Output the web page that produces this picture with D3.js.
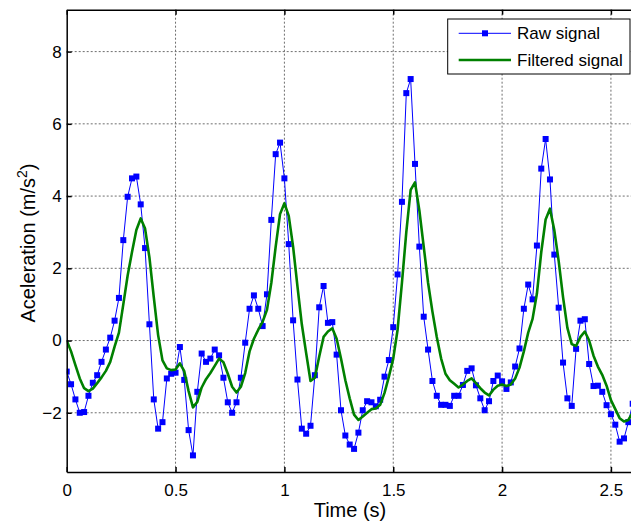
<!DOCTYPE html>
<head>
  <meta charset="utf-8">
  <script src="https://d3js.org/d3.v7.min.js"></script>
  <style>
    body {
      margin: 0;
      background: #fff;
      font-family: "Liberation Sans", Arial, sans-serif;
    }

    .grid line {
      stroke: #6e6e6e;
      stroke-width: 1;
      stroke-dasharray: 2,2;
    }

    .axis path, .axis line {
      stroke: #000;
      stroke-width: 1.5;
    }

    .axis text {
      font-size: 17px;
      fill: #000;
    }
  </style>
</head>

<body>
  <div id="chart"></div>

  <script>
    // samples every 0.02 s
    var sampleStep = 0.02;

    var rawSignal = [
      -0.86, -1.21, -1.63, -2.00, -1.98, -1.53, -1.17, -0.96, -0.59, -0.25,
       0.08,  0.55,  1.18,  2.78,  3.98,  4.49,  4.54,  3.77,  2.56,  0.45,
      -1.63, -2.44, -2.26, -1.05, -0.92, -0.89, -0.18, -1.09, -2.48, -3.18,
      -1.42, -0.36, -0.59, -0.50, -0.25, -0.41, -1.03, -1.71, -2.00, -1.71,
      -1.03, -0.06,  0.88,  1.25,  0.88,  0.40,  1.28,  3.34,  5.16,  5.48,
       4.49,  2.67,  0.56, -1.08, -2.44, -2.58, -2.36, -0.96,  0.92,  1.51,
       0.49,  0.51, -0.39, -1.93, -2.63, -2.88, -3.00, -2.55, -1.93, -1.68,
      -1.71, -1.82, -1.64, -1.00, -0.54,  0.37,  1.83,  3.84,  6.85,  7.24,
       4.89,  2.60,  0.66, -0.25, -1.12, -1.53, -1.78, -1.78, -1.81, -1.53,
      -1.53, -1.23, -0.84, -0.77, -1.24, -1.60, -1.93, -1.68, -1.12, -0.97,
      -1.13, -1.34, -1.16, -0.72, -0.22,  0.88,  1.55,  1.14,  2.63,  4.76,
       5.58,  4.46,  2.38,  0.91, -0.61, -1.60, -1.81, -0.23,  0.55,  0.59,
      -0.65, -1.26, -1.25, -1.42, -1.79, -2.04, -2.33, -2.80, -2.71, -2.26,
      -1.75
    ];

    var filteredSignal = [
       0.00, -0.30, -0.68, -1.05, -1.32, -1.40, -1.33, -1.18, -1.02, -0.84,
      -0.59, -0.17,  0.22,  1.00,  1.80,  2.45,  3.06,  3.38,  3.10,  2.30,
       1.20,  0.15, -0.55, -0.77, -0.82, -0.80, -0.63, -0.85, -1.40, -1.85,
      -1.70, -1.30, -1.07, -0.90, -0.70, -0.50, -0.60, -0.92, -1.28, -1.44,
      -1.28, -0.90, -0.30,  0.05,  0.30,  0.52,  0.85,  1.60,  2.60,  3.50,
       3.80,  3.45,  2.60,  1.50,  0.45, -0.35, -1.12, -1.03, -0.44,  0.10,
       0.25,  0.34,  0.05, -0.50, -1.10, -1.60, -2.05, -2.20, -2.10, -2.00,
      -1.90, -1.88, -1.78, -1.45, -1.00, -0.50,  0.30,  1.60,  3.00,  4.17,
       4.38,  3.60,  2.60,  1.60,  0.80,  0.10, -0.50, -0.92, -1.10, -1.20,
      -1.30, -1.22, -1.12, -1.05, -1.18, -1.32, -1.44, -1.52, -1.36, -1.25,
      -1.22, -1.26, -1.22, -1.05, -0.75, -0.30,  0.22,  0.60,  1.30,  2.45,
       3.35,  3.65,  3.05,  2.20,  1.20,  0.35, -0.10, -0.15,  0.10,  0.25,
       0.00, -0.42, -0.72, -0.95, -1.25, -1.65, -1.90, -2.15, -2.24, -2.20,
      -2.00
    ];

    var xTicks = [0, 0.5, 1, 1.5, 2, 2.5];
    var yTicks = [-2, 0, 2, 4, 6, 8];
    var legendLabels = ["Raw signal", "Filtered signal"];

    var width = 631,
        height = 527;

    // plot box (right edge falls just past the window)
    var box = {left: 66.7, right: 632.7, top: 9.7, bottom: 472};

    var x = d3.scaleLinear()
      .domain([0, 2.6])
      .range([box.left, box.right]);

    var y = d3.scaleLinear()
      .domain([-3.64, 9.16])
      .range([box.bottom, box.top]);

    var svg = d3.select("#chart").append("svg")
      .attr("width", width)
      .attr("height", height);

    svg.append("defs").append("clipPath")
        .attr("id", "plot-clip")
      .append("rect")
        .attr("x", box.left)
        .attr("y", box.top)
        .attr("width", box.right - box.left)
        .attr("height", box.bottom - box.top);

    // grid
    var grid = svg.append("g").attr("class", "grid");

    grid.selectAll("line.vx")
        .data(xTicks.filter(function(d) { return d > 0; }))
      .enter().append("line")
        .attr("class", "vx")
        .attr("x1", function(d) { return x(d); })
        .attr("x2", function(d) { return x(d); })
        .attr("y1", box.top)
        .attr("y2", box.bottom);

    grid.selectAll("line.hy")
        .data(yTicks)
      .enter().append("line")
        .attr("class", "hy")
        .attr("x1", box.left)
        .attr("x2", box.right)
        .attr("y1", function(d) { return y(d); })
        .attr("y2", function(d) { return y(d); });

    var raw = rawSignal.map(function(v, i) { return [i * sampleStep, v]; });
    var filtered = filteredSignal.map(function(v, i) { return [i * sampleStep, v]; });

    var line = d3.line()
      .x(function(d) { return x(d[0]); })
      .y(function(d) { return y(d[1]); });

    var plot = svg.append("g").attr("clip-path", "url(#plot-clip)");

    plot.append("path")
      .datum(raw)
      .attr("fill", "none")
      .attr("stroke", "#0000ff")
      .attr("stroke-width", 1)
      .attr("d", line);

    plot.selectAll("rect.marker")
        .data(raw)
      .enter().append("rect")
        .attr("class", "marker")
        .attr("x", function(d) { return x(d[0]) - 3; })
        .attr("y", function(d) { return y(d[1]) - 3; })
        .attr("width", 6)
        .attr("height", 6)
        .attr("fill", "#0000ff");

    plot.append("path")
      .datum(filtered)
      .attr("fill", "none")
      .attr("stroke", "#008000")
      .attr("stroke-width", 2.6)
      .attr("stroke-linejoin", "round")
      .attr("d", line);

    // axes, ticks point inward
    svg.append("g")
      .attr("class", "axis")
      .attr("transform", "translate(0," + box.bottom + ")")
      .call(d3.axisBottom(x).tickValues(xTicks).tickFormat(d3.format("")).tickSizeInner(-5).tickSizeOuter(0).tickPadding(11.6));

    svg.append("g")
      .attr("class", "axis")
      .attr("transform", "translate(0," + box.top + ")")
      .call(d3.axisTop(x).tickValues(xTicks).tickFormat("").tickSizeInner(-5).tickSizeOuter(0));

    svg.append("g")
      .attr("class", "axis")
      .attr("transform", "translate(" + box.left + ",0)")
      .call(d3.axisLeft(y).tickValues(yTicks).tickFormat(d3.format("")).tickSizeInner(-5).tickSizeOuter(0).tickPadding(5));

    // axis titles
    svg.append("text")
      .attr("x", 350)
      .attr("y", 517)
      .attr("text-anchor", "middle")
      .style("font-size", "20px")
      .text("Time (s)");

    var ylab = svg.append("text")
      .attr("transform", "translate(35,243) rotate(-90)")
      .attr("text-anchor", "middle")
      .style("font-size", "20px");
    ylab.append("tspan").text("Aceleration (m/s");
    ylab.append("tspan").attr("dy", -8).style("font-size", "14px").text("2");
    ylab.append("tspan").attr("dy", 8).text(")");

    // legend
    var legend = svg.append("g");

    legend.append("rect")
      .attr("x", 447.7)
      .attr("y", 19)
      .attr("width", 182.3)
      .attr("height", 55)
      .attr("fill", "#fff")
      .attr("stroke", "#000")
      .attr("stroke-width", 1);

    var rowY = [33.3, 60];

    legend.append("line")
      .attr("x1", 458.7).attr("x2", 511)
      .attr("y1", rowY[0]).attr("y2", rowY[0])
      .attr("stroke", "#0000ff")
      .attr("stroke-width", 1);

    legend.append("rect")
      .attr("x", 482).attr("y", rowY[0] - 3)
      .attr("width", 6).attr("height", 6)
      .attr("fill", "#0000ff");

    legend.append("line")
      .attr("x1", 458.7).attr("x2", 511)
      .attr("y1", rowY[1]).attr("y2", rowY[1])
      .attr("stroke", "#008000")
      .attr("stroke-width", 2.6);

    legend.selectAll("text")
        .data(legendLabels)
      .enter().append("text")
        .attr("x", 517)
        .attr("y", function(d, i) { return rowY[i]; })
        .attr("dy", "0.35em")
        .style("font-size", "17px")
        .text(function(d) { return d; });
  </script>
</body>
